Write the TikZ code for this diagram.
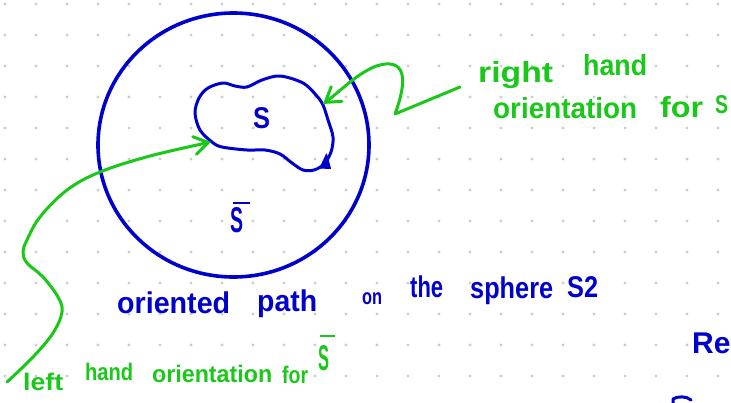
\documentclass[tikz,border=0pt]{standalone}
\usepackage{fontspec}
\setmainfont{Liberation Sans}
\usetikzlibrary{arrows.meta}
\definecolor{inkblue}{RGB}{0,0,205}
\definecolor{inkgreen}{RGB}{25,200,25}
\definecolor{dotgray}{RGB}{205,205,205}
\newcommand\hw[2]{\resizebox{#1}{\height}{#2}}
\newcommand\hS[2]{\resizebox{#1}{#2}{S}}
\newcommand\barS[5]{\leavevmode\rlap{\hspace*{#1}\raisebox{#2}{\rule{#3}{2.5pt}}}\hS{#4}{#5}}
\begin{document}
\begin{tikzpicture}[x=1pt,y=-1pt,
  word/.style={inner sep=0pt, anchor=base west},
  bluetxt/.style={word, text=inkblue, font=\fontsize{30}{32}\selectfont\bfseries},
  greentxt/.style={word, text=inkgreen, font=\fontsize{29}{31}\selectfont\bfseries},
  greensmall/.style={word, text=inkgreen, font=\fontsize{24}{26}\selectfont\bfseries},
  blueline/.style={draw=inkblue, line width=3pt, line cap=round, line join=round},
  greenline/.style={draw=inkgreen, line width=3pt, line cap=round, line join=round},
  barb/.style={-{Straight Barb[length=14pt,width=18pt,line cap=round]}}
]
\useasboundingbox (0,0) rectangle (731,402);
\fill[white] (0,0) rectangle (731,402);
% dot grid
\foreach \i in {0,...,23}{\foreach \j in {0,...,12}{\fill[dotgray] (5+31*\i,4+31*\j) circle[radius=1.6pt];}}
% sphere
\draw[blueline, line width=3.6pt] (233.5,145) ellipse[x radius=135.5pt, y radius=132pt];
% oriented loop
\draw[blueline]
  plot[smooth cycle, tension=0.55] coordinates {(324,164) (331,152) (333,137) (328,120) (323,105) (316,95) (303,83) (280,76) (262,80) (247,87) (235,86) (223,83) (208,88) (199,98) (195,113) (200,130) (212,142) (222,147) (247,150) (265,150) (280,154) (292,163) (303,170) (314,170)};
% arrowhead on the loop
\fill[inkblue, draw=inkblue, line width=1pt, line join=round] (326.5,154) -- (320,168) -- (330.5,168.5) -- cycle;
% labels inside
\node[bluetxt] (s) at (253,128) {\hS{17pt}{21pt}};
\node[bluetxt] (sbar) at (230,232) {\barS{3pt}{28pt}{17pt}{13pt}{25pt}};
% right hand arrow
\draw[greenline, barb] (460,87) -- (395,114) .. controls (402,95) and (410,66) .. (390,64) .. controls (368,62) and (342,90) .. (323,104);
% left hand arrow
\draw[greenline, barb] plot[smooth, tension=0.6] coordinates {(7,382) (33,357) (53,333) (62,312) (58,297) (43,277) (27,263) (23,252) (27,240) (40,217) (67,190) (100,172) (150,156) (211,142)};
% right hand text
\node[greentxt] (w1) at (478,82) {\hw{75pt}{right}};
\node[greentxt] (w2) at (583,75) {\hw{64pt}{hand}};
\node[greentxt] (w3) at (493,118) {\hw{144pt}{orientation}};
\node[greentxt] (w4) at (660,117) {\hw{43pt}{for}};
\node[greentxt] (w5) at (715,113) {\hS{13pt}{18pt}};
% blue caption
\node[bluetxt] (b1) at (117,313) {\hw{113pt}{oriented}};
\node[bluetxt] (b2) at (257,311) {\hw{60pt}{path}};
\node[bluetxt, font=\fontsize{22}{24}\selectfont\bfseries] (b3) at (362,304) {\hw{20pt}{on}};
\node[bluetxt] (b4) at (410,297) {\hw{33pt}{the}};
\node[bluetxt] (b5) at (470,298) {\hw{83pt}{sphere}};
\node[bluetxt] (b6) at (567,297) {\hw{31pt}{S2}};
% left hand text
\node[greensmall] (l1) at (23,390) {\hw{40pt}{left}};
\node[greensmall] (l2) at (85,380) {\hw{48pt}{hand}};
\node[greensmall] (l3) at (152,382) {\hw{120pt}{orientation}};
\node[greensmall] (l4) at (282,383) {\hw{26pt}{for}};
\node[greensmall] (l5) at (318,370) {\barS{2pt}{33pt}{15pt}{11pt}{25pt}};
% cut-off text at right edge
\node[bluetxt] (re) at (692,353) {Re};
\draw[blueline] (673,404) -- (673,399) .. controls (677,396) and (687,396) .. (691,400);
\end{tikzpicture}
\end{document}
